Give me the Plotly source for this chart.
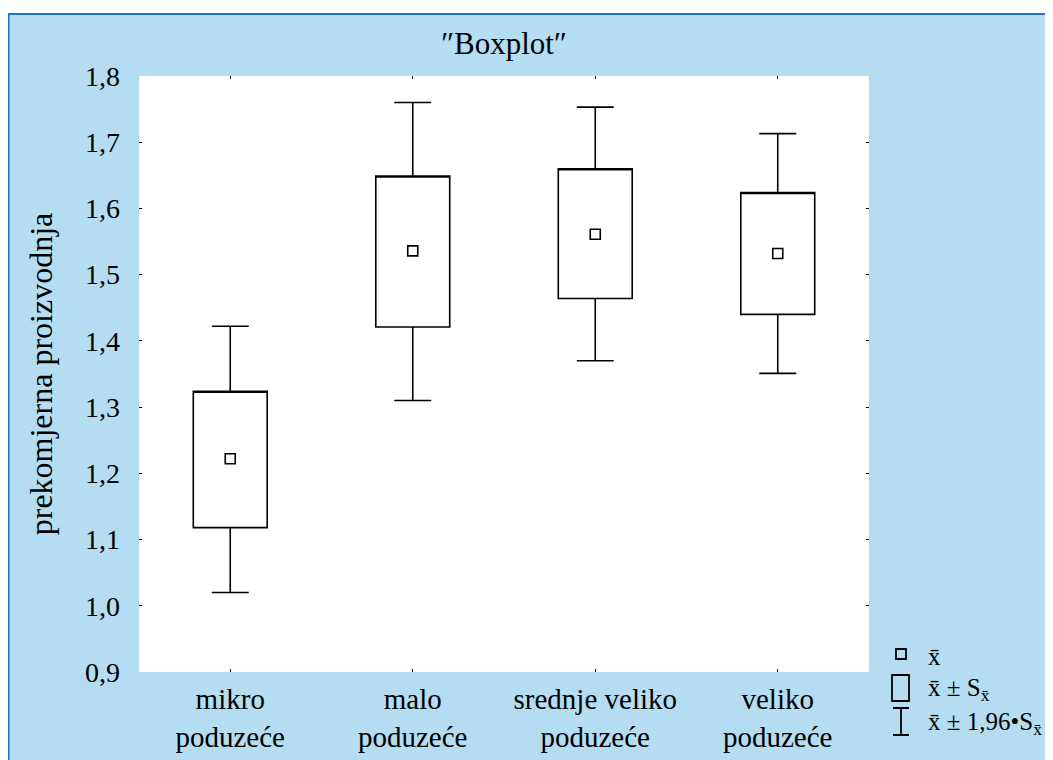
import plotly.graph_objects as go

categories = ['mikro<br>poduzeće', 'malo<br>poduzeće', 'srednje veliko<br>poduzeće', 'veliko<br>poduzeće']
mean = [1.222, 1.536, 1.561, 1.532]
se_low = [1.118, 1.421, 1.464, 1.440]
se_high = [1.324, 1.649, 1.660, 1.624]
ci_low = [1.020, 1.310, 1.370, 1.351]
ci_high = [1.422, 1.760, 1.753, 1.713]
y_ticks = [0.9, 1.0, 1.1, 1.2, 1.3, 1.4, 1.5, 1.6, 1.7, 1.8]

# page body adds 8px, so lay the figure out 8px up/left
OFF = 8
W, H = 1053, 760
L, T = 139-OFF, 76-OFF
pw, ph = 730, 596
R, B = W-L-pw, H-T-ph

def px(x):
    return (x-OFF-L)/pw

def py(y):
    return (T+ph-(y-OFF))/ph

font = "'Liberation Serif', 'Times New Roman', Times, serif"
blue = '#b5ddf1'
dark = '#1b74c4'

fig = go.Figure()
# box = mean +- SE, whiskers = mean +- 1.96*SE
fig.add_trace(go.Box(
    x=categories, q1=se_low, median=se_high, q3=se_high,
    lowerfence=ci_low, upperfence=ci_high,
    width=0.405, whiskerwidth=0.5,
    fillcolor='white', line={'color':'black','width':1.6},
    boxpoints=False, showlegend=False, hoverinfo='skip'))
fig.add_trace(go.Scatter(
    x=categories, y=mean, mode='markers',
    marker={'symbol':'square-open','size':10,'color':'black','line':{'width':1.6}},
    showlegend=False, hoverinfo='skip'))

shapes = [
    # white top strip and dark frame lines
    dict(type='rect', xref='paper', yref='paper', x0=px(0), x1=px(W+OFF), y0=py(0), y1=py(13), fillcolor='white', line_width=0, layer='below'),
    dict(type='rect', xref='paper', yref='paper', x0=px(7), x1=px(W+OFF), y0=py(13), y1=py(15), fillcolor=dark, line_width=0, layer='below'),
    dict(type='rect', xref='paper', yref='paper', x0=px(7), x1=px(9.5), y0=py(13), y1=py(H+OFF), fillcolor=dark, line_width=0, layer='below'),
    # legend symbols
    dict(type='rect', xref='paper', yref='paper', x0=px(896), x1=px(906), y0=py(649), y1=py(659), line={'color':'black','width':1.8}),
    dict(type='rect', xref='paper', yref='paper', x0=px(892), x1=px(909), y0=py(675), y1=py(701), line={'color':'black','width':1.8}),
    dict(type='path', xref='paper', yref='paper',
         path='M %f,%f L %f,%f M %f,%f L %f,%f M %f,%f L %f,%f' % (
             px(901), py(708), px(901), py(735),
             px(893), py(708), px(909), py(708),
             px(893), py(735), px(909), py(735)),
         line={'color':'black','width':1.8}),
]

legend_text = ['x̄', 'x̄ ± S<sub>x̄</sub>', 'x̄ ± 1,96•S<sub>x̄</sub>']
legend_y = [656, 689, 723]
annotations = [dict(xref='paper', yref='paper', x=px(926), y=py(yy), text=t, showarrow=False,
                    xanchor='left', yanchor='middle', font={'family':font,'size':25,'color':'black'})
               for t, yy in zip(legend_text, legend_y)]

fig.update_layout(
    width=W, height=H,
    margin={'l':L,'r':R,'t':T,'b':B},
    paper_bgcolor=blue,
    plot_bgcolor='white',
    separators=', ',
    title={'text':'″Boxplot″', 'font':{'family':font,'size':31,'color':'black'},
           'x':0.5, 'xref':'paper', 'xanchor':'center', 'y':1-(43-OFF)/H, 'yanchor':'middle'},
    xaxis={'range':[-0.5,3.5], 'showgrid':False, 'zeroline':False, 'showline':False,
           'ticks':'inside', 'ticklen':3, 'tickcolor':'black', 'mirror':'ticks',
           'tickfont':{'family':font,'size':29,'color':'black'},
           'ticklabelstandoff':7, 'automargin':False, 'fixedrange':True},
    yaxis={'range':[0.9,1.8], 'tickvals':y_ticks, 'tickformat':'.1f',
           'showgrid':False, 'zeroline':False, 'showline':False,
           'ticks':'inside', 'ticklen':3, 'tickcolor':'black', 'mirror':'ticks',
           'tickfont':{'family':font,'size':28,'color':'black'},
           'ticklabelstandoff':18, 'automargin':False, 'fixedrange':True,
           'title':{'text':'prekomjerna proizvodnja', 'standoff':22,
                    'font':{'family':font,'size':32,'color':'black'}}},
    shapes=shapes,
    annotations=annotations,
    showlegend=False,
)
fig.write_html('out.html')
